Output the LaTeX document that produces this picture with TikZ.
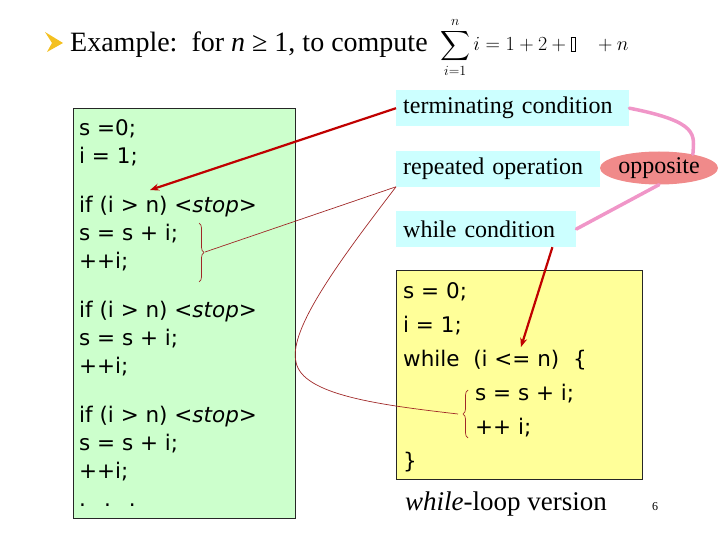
\RequirePackage{fix-cm}
\documentclass[tikz,border=0pt]{standalone}
\usepackage{exscale}
\usepackage{fontspec}
\setmainfont{Liberation Serif}
\newfontfamily\codefont{DejaVu Sans}
\usetikzlibrary{arrows.meta,positioning,shapes.geometric,decorations.pathreplacing}

\definecolor{greenfill}{HTML}{CCFFCC}
\definecolor{yellowfill}{HTML}{FFFF99}
\definecolor{cyanfill}{HTML}{CCFFFF}
\definecolor{oppfill}{HTML}{F08A8A}
\definecolor{linkpink}{HTML}{F096C8}
\definecolor{arrowred}{HTML}{C00000}
\definecolor{thinred}{HTML}{A02828}
\definecolor{bulletgold}{HTML}{F4C020}

\newcommand{\gapbox}{\mbox{\setlength{\fboxsep}{0pt}\setlength{\fboxrule}{0.5pt}\fbox{\rule{0pt}{13pt}\rule{4pt}{0pt}}}}

\begin{document}
\begin{tikzpicture}[
  x=1pt,y=-1pt,
  lbl/.style={fill=cyanfill,align=left,inner xsep=7pt,inner ysep=0pt,minimum height=36pt,font=\fontsize{24}{28}\selectfont},
  codebox/.style={draw=black!85,line width=0.8pt,anchor=north west,inner sep=0pt},
  code/.style={anchor=north west,align=left,inner sep=0pt},
  arr/.style={draw=arrowred,line width=2.2pt,-{Stealth[length=9pt,width=7pt]}},
  thinln/.style={draw=thinred,line width=0.7pt},
  link/.style={draw=linkpink,line width=3.5pt,line cap=round},
  brc/.style={thinln,decorate,decoration={brace,amplitude=5pt}}
]
\useasboundingbox (0,0) rectangle (720,540);

% heading
\fill[bulletgold] (45,32) -- (63,43) -- (47,52) -- (52,43) -- cycle;
\node[anchor=base west,inner sep=0pt,font=\fontsize{28}{32}\selectfont] (title) at (70,52)
  {Example:\ \ for \textit{n} ≥ 1, to compute};
\node[anchor=base west,inner sep=0pt,font=\fontsize{20}{24}\selectfont] (sum) at (440,51)
  {$\displaystyle\sum_{i=1}^{n} i = 1 + 2 + \gapbox\hspace{18pt} + n$};

% unrolled code
\node[codebox,fill=greenfill,minimum width=222pt,minimum height=410pt] (green) at (73,108) {};
\node[code,font=\codefont\fontsize{21.5}{28}\selectfont] (greentxt) at (79,119) {%
  s =0;\\
  i = 1;\\[21pt]
  if (i > n) <\textit{stop}>\\
  s = s + i;\\
  ++i;\\[21pt]
  if (i > n) <\textit{stop}>\\
  s = s + i;\\
  ++i;\\[21pt]
  if (i > n) <\textit{stop}>\\
  s = s + i;\\
  ++i;\\
  .\hspace{18pt}.\hspace{18pt}.};

% while version
\node[codebox,fill=yellowfill,minimum width=246pt,minimum height=209pt] (yellow) at (396,270) {};
\node[code,font=\codefont\fontsize{21.5}{34}\selectfont] (yellowtxt) at (403,282) {%
  s = 0;\\
  i = 1;\\
  while\ \ (i <= n)\ \ \{\\
  \hspace*{72pt}s = s + i;\\
  \hspace*{72pt}++ i;\\
  \}};
\node[anchor=base west,inner sep=0pt,font=\fontsize{27}{30}\selectfont] (caption) at (405,510)
  {\textit{while}-loop version};
\node[anchor=base west,inner sep=0pt,font=\fontsize{12}{14}\selectfont] (page) at (652,510) {6};

% labels
\node[lbl,anchor=north west,text width=219pt] (term) at (396,90) {terminating condition};
\node[lbl,below right=24pt and 0pt of term.south west,text width=190pt] (rep) {repeated operation};
\node[lbl,below right=24pt and 0pt of rep.south west,text width=166pt] (cond) {while condition};
\node[ellipse,fill=oppfill,minimum width=118pt,minimum height=33pt,inner sep=0pt,
  font=\fontsize{24}{28}\selectfont] (opp) at (659,168) {opposite};

% braces and ends
\draw[brc] (199,223) -- (199,282);
\draw[brc] (468,438) -- (468,390);
\coordinate (gtip) at (205,252);
\coordinate (ytip) at (458,414);
\coordinate (stop1) at (150,190);
\coordinate (leq) at (521,347);

\draw[link] (term.east) .. controls (700,122) and (694,135) .. (opp.22);
\draw[link] (opp.south) -- (cond.east);
\draw[arr] (term.west) -- (stop1);
\draw[arr] ([xshift=-24pt]cond.south east) -- (leq);
\draw[thinln] (gtip) -- (rep.south west);
\draw[thinln] (rep.south west) .. controls (340,260) and (288,330) .. (296,362)
  .. controls (302,395) and (380,405) .. (ytip);
\end{tikzpicture}
\end{document}
